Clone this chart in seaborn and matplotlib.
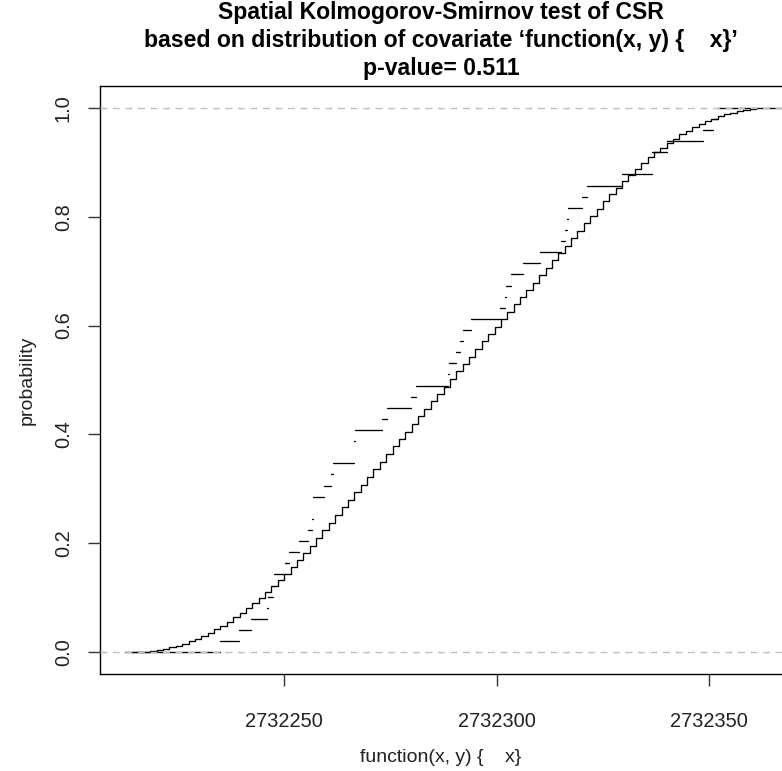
import numpy as np
import pandas as pd
import matplotlib
matplotlib.use("Agg")
import matplotlib.pyplot as plt
import seaborn as sns

# ── Data ──────────────────────────────────────────────────────────────────────
# range of the covariate over the window
COV_MIN = 2732212.6
COV_MAX = 2732361.2

# covariate values at the 49 data points (jumps of the empirical cdf)
obs_values = [
    2732234.9, 2732239.3, 2732242.2, 2732246.0, 2732246.1, 2732247.4, 2732247.5,
    2732250.2, 2732251.2, 2732253.5, 2732255.5, 2732256.6, 2732256.7, 2732256.8,
    2732259.4, 2732260.9, 2732261.5, 2732266.4, 2732266.5, 2732266.6, 2732273.1,
    2732274.1, 2732279.8, 2732281.1, 2732288.6, 2732288.7, 2732290.5, 2732291.3,
    2732292.1, 2732294.0, 2732300.7, 2732302.0, 2732302.1, 2732303.4, 2732306.1,
    2732310.1, 2732315.2, 2732316.0, 2732316.6, 2732316.7, 2732320.0, 2732321.3,
    2732329.5, 2732336.5, 2732336.6, 2732340.1, 2732348.5, 2732350.9, 2732351.9,
]

# expected cdf under CSR (pixel steps)
exp_x = [
    2732214.0, 2732215.5, 2732217.0, 2732218.5, 2732220.0, 2732221.5, 2732223.0,
    2732224.5, 2732226.0, 2732227.5, 2732229.0, 2732230.5, 2732232.0, 2732233.5,
    2732235.0, 2732236.5, 2732238.0, 2732239.5, 2732241.0, 2732242.5, 2732244.0,
    2732245.5, 2732247.0, 2732248.5, 2732250.0, 2732251.5, 2732253.0, 2732254.5,
    2732256.0, 2732257.5, 2732259.0, 2732260.5, 2732262.0, 2732263.5, 2732265.0,
    2732266.5, 2732268.0, 2732269.5, 2732271.0, 2732272.5, 2732274.0, 2732275.5,
    2732277.0, 2732278.5, 2732280.0, 2732281.5, 2732283.0, 2732284.5, 2732286.0,
    2732287.5, 2732289.0, 2732290.5, 2732292.0, 2732293.5, 2732295.0, 2732296.5,
    2732298.0, 2732299.5, 2732301.0, 2732302.5, 2732304.0, 2732305.5, 2732307.0,
    2732308.5, 2732310.0, 2732311.5, 2732313.0, 2732314.5, 2732316.0, 2732317.5,
    2732319.0, 2732320.5, 2732322.0, 2732323.5, 2732325.0, 2732326.5, 2732328.0,
    2732329.5, 2732331.0, 2732332.5, 2732334.0, 2732335.5, 2732337.0, 2732338.5,
    2732340.0, 2732341.5, 2732343.0, 2732344.5, 2732346.0, 2732347.5, 2732349.0,
    2732350.5, 2732352.0, 2732353.5, 2732355.0, 2732356.5, 2732358.0, 2732359.5,
    2732361.0,
]
exp_p = [
    0.000, 0.001, 0.001, 0.002, 0.004, 0.006, 0.009,
    0.012, 0.016, 0.020, 0.025, 0.030, 0.036, 0.042,
    0.049, 0.056, 0.064, 0.072, 0.081, 0.090, 0.100,
    0.110, 0.121, 0.132, 0.144, 0.156, 0.169, 0.182,
    0.196, 0.210, 0.224, 0.238, 0.252, 0.266, 0.280,
    0.294, 0.308, 0.322, 0.336, 0.350, 0.364, 0.378,
    0.392, 0.405, 0.419, 0.433, 0.447, 0.461, 0.475,
    0.488, 0.502, 0.516, 0.530, 0.543, 0.557, 0.571,
    0.584, 0.598, 0.612, 0.625, 0.639, 0.652, 0.666,
    0.679, 0.693, 0.706, 0.720, 0.733, 0.747, 0.760,
    0.774, 0.788, 0.802, 0.815, 0.828, 0.841, 0.853,
    0.865, 0.877, 0.888, 0.899, 0.909, 0.918, 0.927,
    0.935, 0.943, 0.951, 0.958, 0.964, 0.970, 0.975,
    0.980, 0.984, 0.988, 0.991, 0.994, 0.996, 0.998,
    1.000,
]

x_ticks = [2732250, 2732300, 2732350]
y_ticks = [0.0, 0.2, 0.4, 0.6, 0.8, 1.0]
p_value = 0.511
cov_label = "function(x, y) {    x}"
title_lines = [
    "Spatial Kolmogorov-Smirnov test of CSR",
    f"based on distribution of covariate \u2018{cov_label}\u2019",
    f"p-value= {p_value}",
]

# ── Figure ────────────────────────────────────────────────────────────────────
sns.set_theme(style="white")
plt.rcParams["font.family"] = ["Liberation Sans", "DejaVu Sans"]

W, H = 782, 771
fig = plt.figure(figsize=(W / 100, H / 100), dpi=100)
# plot region in pixels: left 100, right 782, top 86, bottom 674
ax = fig.add_axes([100 / W, (H - 674) / H, 682 / W, 588 / H])

n = len(obs_values)
rng = COV_MAX - COV_MIN
xlim = (COV_MIN - 0.04 * rng, COV_MAX + 0.04 * rng)

# expected cdf: staircase
exp_df = pd.DataFrame({"x": exp_x, "p": exp_p})
sns.lineplot(data=exp_df, x="x", y="p", drawstyle="steps-post",
             color="black", lw=0.95, ax=ax, zorder=3)

# observed cdf: horizontal pieces only
starts = [COV_MIN] + obs_values
ends = obs_values + [xlim[1]]
levels = np.arange(n + 1) / n
ax.hlines(levels, starts, ends, colors="black", lw=0.95,
          capstyle="round", zorder=3)

# reference lines at 0 and 1
for yv in (0.0, 1.0):
    ax.axhline(yv, color="#c0c0c0", lw=1.0, dashes=(5, 4), zorder=4)

ax.set_xlim(*xlim)
ax.set_ylim(-0.04, 1.04)
ax.set_xticks(x_ticks)
ax.set_xticklabels([str(t) for t in x_ticks])
ax.set_yticks(y_ticks)
ax.set_yticklabels([f"{t:.1f}" for t in y_ticks])

for side in ("left", "bottom", "top"):
    ax.spines[side].set_visible(True)
    ax.spines[side].set_color("black")
    ax.spines[side].set_linewidth(1.0)
ax.spines["right"].set_visible(False)

ax.tick_params(axis="both", direction="out", length=8.5, width=1.0,
               color="#333333", labelsize=14.4, labelcolor="#222222",
               bottom=True, left=True)
ax.tick_params(axis="x", pad=19)
ax.tick_params(axis="y", pad=11, labelrotation=90)
for lbl in ax.get_yticklabels():
    lbl.set_va("center")

ax.set_xlabel(cov_label, fontsize=14, color="#222222")
ax.set_ylabel("probability", fontsize=14, color="#222222")
ax.xaxis.set_label_coords(0.5, -(758 - 674) / 588)
ax.xaxis.label.set_va("center")
ax.yaxis.set_label_coords(-73 / 682, 0.5)
ax.yaxis.label.set_va("center")

# three-line bold title, centred over the plot region
for line, base_px in zip(title_lines, (19.5, 47.0, 74.5)):
    fig.text(441 / W, 1 - base_px / H, line, ha="center", va="baseline",
             fontsize=16.6, fontweight="bold", color="black")

fig.savefig("out.png", dpi=100)
